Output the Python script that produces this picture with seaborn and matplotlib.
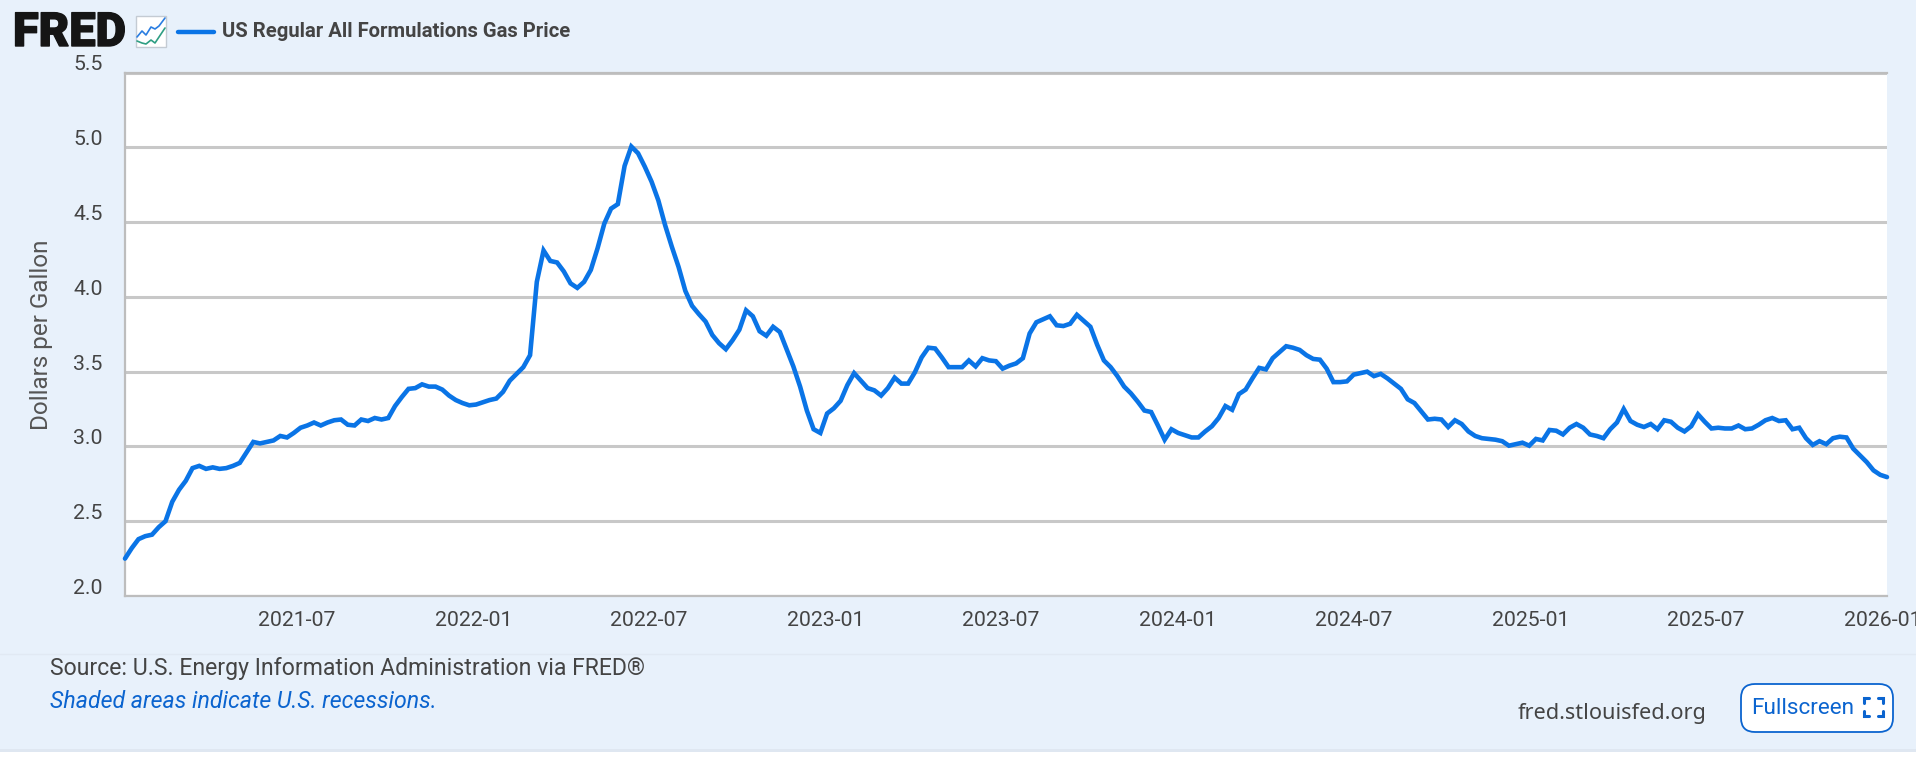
import pandas as pd
import matplotlib.pyplot as plt
import matplotlib.dates as mdates
import matplotlib.patheffects as pe
import seaborn as sns
from matplotlib.lines import Line2D
from matplotlib.patches import FancyBboxPatch, Rectangle
from matplotlib.transforms import ScaledTranslation

# -------------------------
# 1. Data (weekly)
# -------------------------
prices_2021 = [2.25, 2.32, 2.38, 2.40, 2.41, 2.46, 2.50, 2.63, 2.71, 2.77, 2.855, 2.87, 2.85,
               2.86, 2.85, 2.855, 2.87, 2.89, 2.96, 3.03, 3.02, 3.03, 3.04, 3.07, 3.06, 3.09,
               3.125, 3.14, 3.16, 3.14, 3.16, 3.175, 3.18, 3.145, 3.14, 3.18, 3.17, 3.19, 3.18,
               3.19, 3.27, 3.33, 3.385, 3.39, 3.415, 3.40, 3.40, 3.38, 3.34, 3.31, 3.29, 3.275]
prices_2022 = [3.28, 3.295, 3.31, 3.32, 3.365, 3.44, 3.485, 3.53, 3.61, 4.10, 4.31, 4.24, 4.23,
               4.17, 4.09, 4.06, 4.10, 4.18, 4.325, 4.49, 4.59, 4.62, 4.875, 5.005, 4.96, 4.87,
               4.77, 4.645, 4.48, 4.335, 4.20, 4.04, 3.94, 3.885, 3.835, 3.745, 3.69, 3.65, 3.71,
               3.78, 3.91, 3.87, 3.77, 3.74, 3.80, 3.765, 3.65, 3.535, 3.40, 3.24, 3.115, 3.09]
prices_2023 = [3.22, 3.255, 3.305, 3.41, 3.49, 3.44, 3.39, 3.375, 3.34, 3.39, 3.46, 3.42, 3.42,
               3.495, 3.595, 3.66, 3.655, 3.595, 3.53, 3.53, 3.53, 3.575, 3.535, 3.59, 3.575,
               3.57, 3.52, 3.54, 3.555, 3.59, 3.755, 3.83, 3.85, 3.87, 3.81, 3.805, 3.82, 3.88,
               3.84, 3.80, 3.68, 3.575, 3.53, 3.47, 3.40, 3.355, 3.30, 3.24, 3.23, 3.14, 3.045, 3.115]
prices_2024 = [3.09, 3.075, 3.06, 3.06, 3.10, 3.135, 3.19, 3.27, 3.245, 3.35, 3.38, 3.455, 3.525,
               3.515, 3.59, 3.63, 3.67, 3.66, 3.645, 3.61, 3.585, 3.58, 3.52, 3.43, 3.43, 3.435,
               3.48, 3.49, 3.50, 3.47, 3.485, 3.455, 3.42, 3.385, 3.315, 3.29, 3.235, 3.18, 3.185,
               3.18, 3.13, 3.175, 3.15, 3.10, 3.07, 3.055, 3.05, 3.045, 3.035, 3.005, 3.015, 3.025]
prices_2025 = [3.005, 3.05, 3.04, 3.11, 3.105, 3.08, 3.125, 3.15, 3.125, 3.08, 3.07, 3.055, 3.115,
               3.16, 3.25, 3.17, 3.145, 3.13, 3.15, 3.115, 3.175, 3.165, 3.125, 3.10, 3.135, 3.215,
               3.165, 3.12, 3.125, 3.12, 3.12, 3.14, 3.115, 3.12, 3.145, 3.175, 3.19, 3.17, 3.175,
               3.115, 3.125, 3.055, 3.01, 3.035, 3.015, 3.055, 3.065, 3.06, 2.985, 2.94, 2.895,
               2.84, 2.81, 2.795]
prices = prices_2021 + prices_2022 + prices_2023 + prices_2024 + prices_2025
y_ticks = [2.0, 2.5, 3.0, 3.5, 4.0, 4.5, 5.0, 5.5]
x_ticks = ["2021-07", "2022-01", "2022-07", "2023-01", "2023-07", "2024-01", "2024-07",
           "2025-01", "2025-07", "2026-01"]
series_name = "US Regular All Formulations Gas Price"

df = pd.DataFrame({"date": pd.date_range("2021-01-04", periods=len(prices), freq="7D"),
                   "price": prices})

# -------------------------
# 2. Figure setup
# -------------------------
W, H = 1920, 758
BG = "#e8f1fb"
BLUE = "#0a74e6"
TXT = "#444444"
LINK = "#0b64cf"

sns.set_theme(style="white")
plt.rcParams["font.family"] = ["Roboto", "DejaVu Sans"]


def fx(p):
    return p / W


def fy(p):
    return 1 - p / H


fig = plt.figure(figsize=(W / 100, H / 100), dpi=100, facecolor=BG)
ax = fig.add_axes([fx(125), fy(596), fx(1887 - 125), (596 - 72.5) / H], facecolor="white")

# -------------------------
# 3. Line chart
# -------------------------
sns.lineplot(data=df, x="date", y="price", ax=ax, color=BLUE, linewidth=3.3, legend=False,
             zorder=5, solid_joinstyle="miter", clip_on=False)

ax.set_xlim(df["date"].iloc[0], df["date"].iloc[-1])
ax.set_ylim(2, 5.5)
ax.set_yticks(y_ticks)
ax.set_xticks(pd.to_datetime(x_ticks))
ax.xaxis.set_major_formatter(mdates.DateFormatter("%Y-%m"))
ax.yaxis.grid(True, color="#c8c8c8", linewidth=2.2)
ax.set_axisbelow(True)
ax.set_xlabel("")
ax.set_ylabel("")
ax.tick_params(axis="x", length=9.5, width=1.4, color="#cfdcf0", labelsize=15.3, labelcolor=TXT, pad=1)
ax.tick_params(axis="y", length=0, labelsize=15.3, labelcolor=TXT, pad=16)
for lab in ax.get_yticklabels():
    lab.set_transform(lab.get_transform() + ScaledTranslation(0, 9.5 / 100, fig.dpi_scale_trans))

ax.spines["right"].set_visible(False)
for side in ["left", "bottom", "top"]:
    ax.spines[side].set_color("#bdbdbd")
    ax.spines[side].set_linewidth(1.6)

fig.text(fx(42), fy(335), "Dollars per Gallon", rotation=90, ha="center", va="center",
         fontsize=17.5, color="#555555")

# -------------------------
# 4. Header: logo and legend
# -------------------------
fig.text(fx(13), fy(33), "FRED", ha="left", va="center", fontsize=33.8, fontweight="black",
         color="#151515", path_effects=[pe.withStroke(linewidth=1.0, foreground="#151515")])
fig.add_artist(FancyBboxPatch((fx(136), fy(47)), fx(30), 31 / H, boxstyle="square,pad=0",
                              transform=fig.transFigure, facecolor="white", edgecolor="#c4cbd3",
                              linewidth=1))
fig.add_artist(Line2D([fx(p) for p in [137, 142, 146, 151, 155, 159, 165]],
                      [fy(p) for p in [37, 31, 35, 27, 29, 26, 18]], color="#2a7de1", linewidth=1.2))
fig.add_artist(Line2D([fx(p) for p in [137, 142, 146, 151, 155, 159, 165]],
                      [fy(p) for p in [41, 43, 44, 40, 43, 37, 28]], color="#2e9e83", linewidth=1.2))
fig.add_artist(Line2D([fx(178), fx(214)], [fy(32), fy(32)], color=BLUE, linewidth=3.2))
fig.text(fx(222), fy(31.5), series_name, ha="left", va="center", fontsize=14.6, fontweight="bold",
         color="#444444")

# -------------------------
# 5. Footer
# -------------------------
fig.add_artist(Line2D([0, fx(1916)], [fy(654), fy(654)], color="#e1e9f3", linewidth=1))
fig.text(fx(50), fy(669), "Source: U.S. Energy Information Administration via FRED®", ha="left",
         va="center", fontsize=16.6, color=TXT)
fig.text(fx(50), fy(701), "Shaded areas indicate U.S. recessions.", ha="left", va="center",
         fontsize=16.7, style="italic", color=LINK)
fig.text(fx(1518), fy(713), "fred.stlouisfed.org", ha="left", va="center", fontsize=15.6,
         family="Noto Sans", color=TXT)

fig.add_artist(FancyBboxPatch((1755, H - 718), 124, 20, boxstyle="round,pad=14,rounding_size=14",
                              transform=None, facecolor="white", edgecolor=LINK, linewidth=1.3))
fig.text(fx(1751), fy(708), "Fullscreen", ha="left", va="center", fontsize=16.2, color=LINK)
for cx, cy, dx, dy in [(1864, 698, 1, 1), (1883, 698, -1, 1), (1864, 716, 1, -1), (1883, 716, -1, -1)]:
    fig.add_artist(Line2D([fx(cx), fx(cx), fx(cx + 5 * dx)], [fy(cy + 5 * dy), fy(cy), fy(cy)],
                          color=LINK, linewidth=2.2, solid_joinstyle="miter"))

# page edges
fig.add_artist(Rectangle((fx(1916), 0), fx(4), 1, transform=fig.transFigure, facecolor="white",
                         edgecolor="none", zorder=20))
fig.add_artist(Rectangle((0, 0), 1, 9 / H, transform=fig.transFigure, facecolor="white",
                         edgecolor="none", zorder=20))
fig.add_artist(Rectangle((0, 6 / H), fx(1916), 3 / H, transform=fig.transFigure, facecolor="#dfe7f1",
                         edgecolor="none", zorder=21))

fig.savefig("out.png", dpi=100, facecolor=BG)
